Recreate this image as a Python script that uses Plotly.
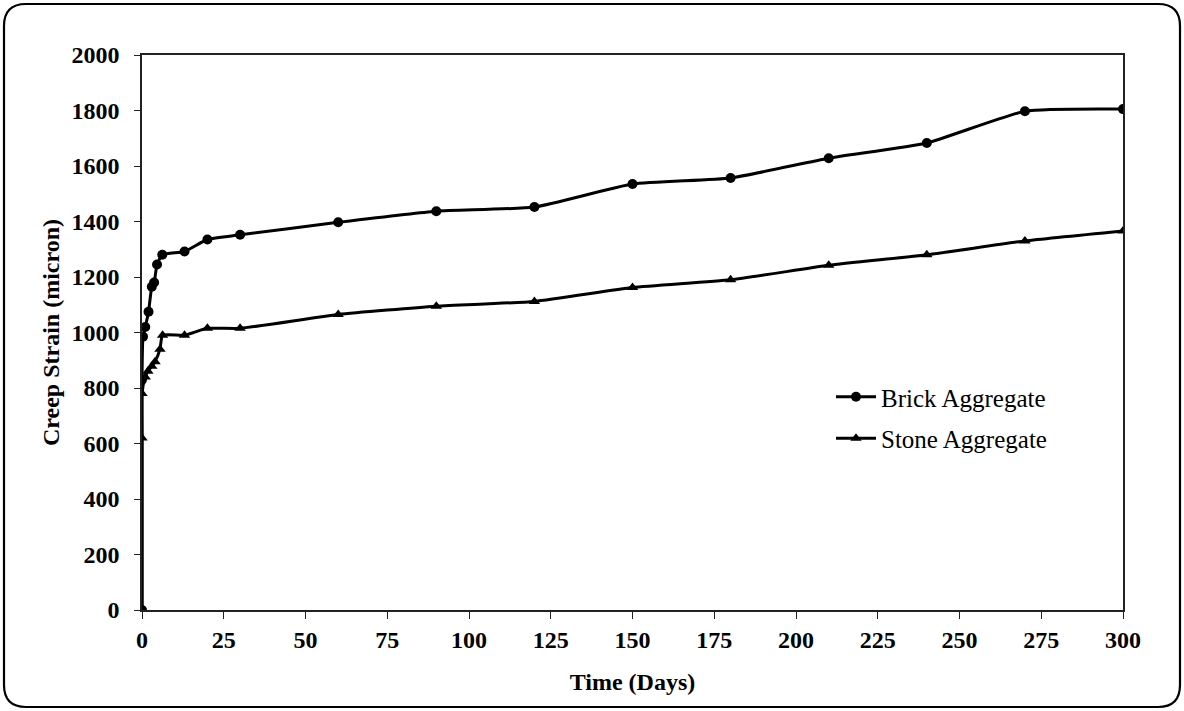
import plotly.graph_objects as go

# Data
brick_days = [0, 0, 0.3, 1, 2, 3, 3.7, 4.6, 6.2, 13, 20, 30, 60, 90, 120, 150, 180, 210, 240, 270, 300]
brick_strain = [0, 830, 985, 1020, 1075, 1165, 1180, 1245, 1280, 1292, 1335, 1352, 1397, 1437, 1452, 1535, 1557, 1628, 1683, 1797, 1805]

stone_days = [0, 0, 0, 1, 1.8, 3, 4, 5.5, 6.3, 13, 20, 30, 60, 90, 120, 150, 180, 210, 240, 270, 300]
stone_strain = [0, 620, 780, 840, 860, 878, 895, 940, 990, 990, 1015, 1015, 1065, 1095, 1112, 1162, 1190, 1242, 1280, 1330, 1366]

x_ticks = [0, 25, 50, 75, 100, 125, 150, 175, 200, 225, 250, 275, 300]
y_ticks = [0, 200, 400, 600, 800, 1000, 1200, 1400, 1600, 1800, 2000]

W, H = 1184, 711
ML, MR, MT, MB = 142, 61, 55, 101

serif = "Liberation Serif, Times New Roman, serif"

fig = go.Figure()
fig.add_trace(go.Scatter(
    x=brick_days, y=brick_strain, name="Brick Aggregate",
    mode="lines+markers", legendgroup="b",
    line=dict(color="black", width=3, shape="spline", smoothing=0.5),
    marker=dict(symbol="circle", size=10, color="black"),
))
fig.add_trace(go.Scatter(
    x=stone_days, y=stone_strain, name="Stone Aggregate",
    mode="lines+markers", legendgroup="s",
    line=dict(color="black", width=3, shape="spline", smoothing=0.5),
    marker=dict(symbol="triangle-up", size=10, color="black"),
))

pw = W - ML - MR
ph = H - MT - MB


def px(xp):
    return (xp - ML) / pw


def py(yp):
    return (H - MB - yp) / ph


# rounded outer frame
x0, x1, y0, y1, r = 4, 1180, 4, 707, 22
path = (
    f"M {px(x0 + r)} {py(y0)} L {px(x1 - r)} {py(y0)} "
    f"Q {px(x1)} {py(y0)} {px(x1)} {py(y0 + r)} "
    f"L {px(x1)} {py(y1 - r)} "
    f"Q {px(x1)} {py(y1)} {px(x1 - r)} {py(y1)} "
    f"L {px(x0 + r)} {py(y1)} "
    f"Q {px(x0)} {py(y1)} {px(x0)} {py(y1 - r)} "
    f"L {px(x0)} {py(y0 + r)} "
    f"Q {px(x0)} {py(y0)} {px(x0 + r)} {py(y0)} Z"
)
fig.add_shape(type="path", path=path, xref="paper", yref="paper",
              line=dict(color="black", width=2.2), layer="above")

fig.update_layout(
    width=W, height=H,
    margin=dict(l=ML, r=MR, t=MT, b=MB),
    paper_bgcolor="white", plot_bgcolor="white",
    font=dict(family=serif, color="black"),
    showlegend=True,
    legend=dict(
        x=px(831), y=py(374), xanchor="left", yanchor="top",
        font=dict(family=serif, size=25, color="black"),
        bgcolor="rgba(0,0,0,0)", tracegroupgap=6, itemwidth=40,
    ),
    xaxis=dict(
        range=[0, 300], tickvals=x_ticks, ticktext=[str(v) for v in x_ticks],
        showgrid=False, zeroline=False,
        showline=True, linecolor="#222", linewidth=1.5, mirror=True,
        ticks="outside", ticklen=7, tickcolor="#222",
        tickfont=dict(family=serif, size=24, color="black", weight="bold"),
        title=dict(text="<b>Time (Days)</b>", font=dict(family=serif, size=24, color="black"), standoff=22),
    ),
    yaxis=dict(
        range=[0, 2000], tickvals=y_ticks, ticktext=[str(v) for v in y_ticks],
        showgrid=False, zeroline=False,
        showline=True, linecolor="#222", linewidth=1.5, mirror=True,
        ticks="outside", ticklen=6, tickcolor="#222",
        tickfont=dict(family=serif, size=24, color="black", weight="bold"),
        ticklabelstandoff=10,
        title=dict(text="<b>Creep Strain (micron)</b>", font=dict(family=serif, size=24, color="black"), standoff=5),
    ),
)

fig.write_html("out.html", config={"displayModeBar": False},
               post_script="document.body.style.margin='0';document.body.style.padding='0';")
